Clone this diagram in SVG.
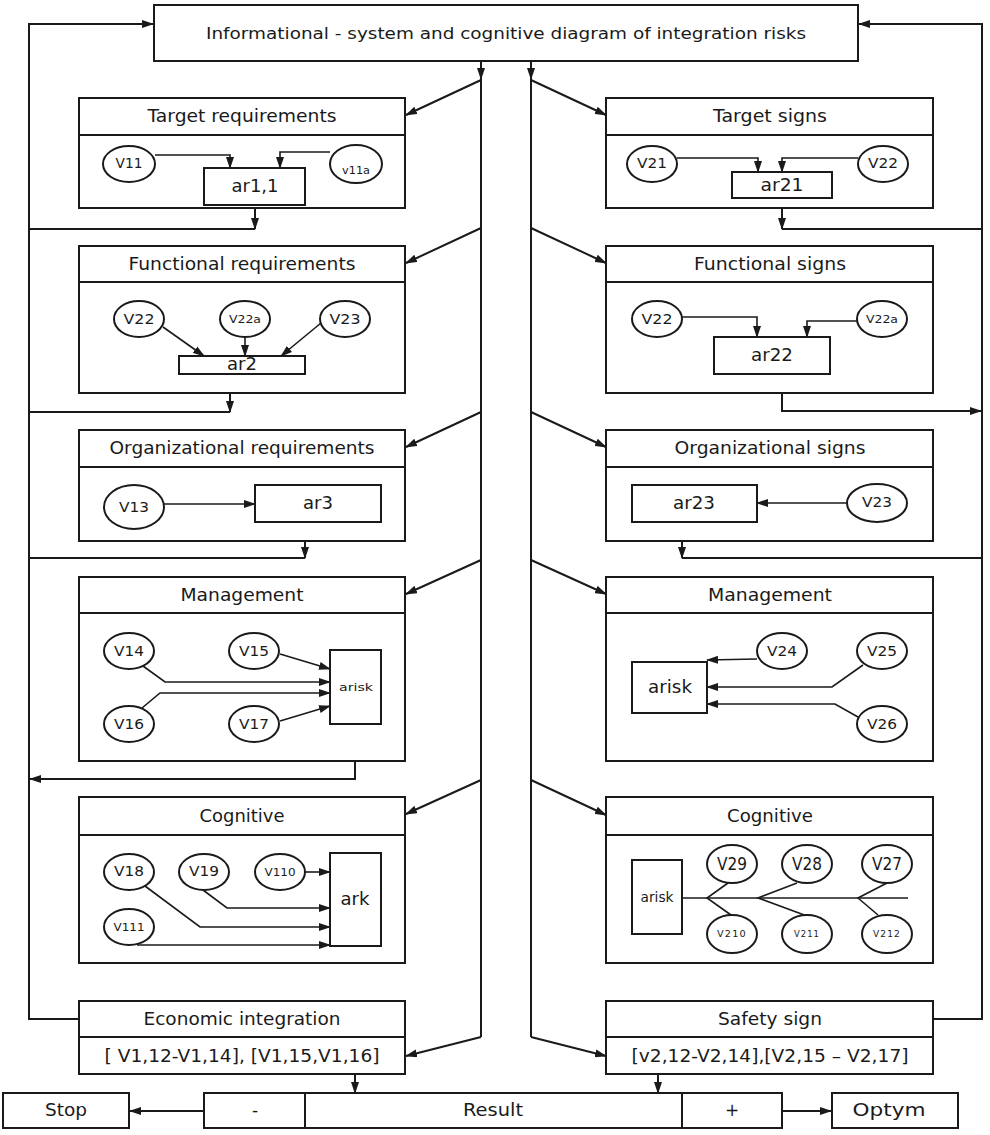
<svg xmlns="http://www.w3.org/2000/svg" width="990" height="1135" viewBox="0 0 990 1135">
<style>
text{font-family:"DejaVu Sans","Liberation Sans",Arial,sans-serif;fill:#1a1a1a;text-anchor:middle;dominant-baseline:central}
.t{font-size:17px}
.h{font-size:16px}
.v{font-size:14px}
.s{font-size:11px}
.xs{font-size:8px;letter-spacing:1px}
rect,ellipse{fill:#fff;stroke:#1a1a1a;stroke-width:2}
.p{fill:none;stroke:#1a1a1a;stroke-width:2}
.c{fill:none;stroke:#1a1a1a;stroke-width:1.6}
.a{marker-end:url(#ah)}
</style>
<defs>
<marker id="ah" viewBox="0 0 12 8" refX="11" refY="4" markerWidth="12" markerHeight="8" markerUnits="userSpaceOnUse" orient="auto">
<path d="M0,0 L12,4 L0,8 Z" fill="#1a1a1a"/>
</marker>
</defs>
<rect width="990" height="1135" style="fill:#fff;stroke:none"/>

<g id="connectors">
<path class="p a" d="M79,1019 H29 V24 H153"/>
<path class="p a" d="M933,1019 H982 V24 H859"/>
<path class="p a" d="M481,61 V79"/>
<path class="p" d="M481,79 V1037"/>
<path class="p a" d="M531,61 V79"/>
<path class="p" d="M531,79 V1037"/>
<path class="p a" d="M481,80 L406,115"/>
<path class="p a" d="M481,228 L406,263"/>
<path class="p a" d="M481,412 L406,447"/>
<path class="p a" d="M481,560 L406,594"/>
<path class="p a" d="M481,780 L406,814"/>
<path class="p a" d="M481,1037 L406,1056"/>
<path class="p a" d="M531,80 L606,115"/>
<path class="p a" d="M531,228 L606,263"/>
<path class="p a" d="M531,412 L606,447"/>
<path class="p a" d="M531,560 L606,594"/>
<path class="p a" d="M531,780 L606,815"/>
<path class="p a" d="M531,1037 L606,1056"/>
<path class="p a" d="M255,205 V229"/>
<path class="p" d="M29,229 H255"/>
<path class="p a" d="M230,393 V412"/>
<path class="p" d="M29,412 H230"/>
<path class="p a" d="M305,522 V558"/>
<path class="p" d="M29,558 H305"/>
<path class="p a" d="M355,724 V779 H30"/>
<path class="p a" d="M782,198 V229"/>
<path class="p" d="M782,229 H982"/>
<path class="p a" d="M782,374 V411 H981"/>
<path class="p a" d="M682,522 V558"/>
<path class="p" d="M682,558 H982"/>
<path class="p a" d="M355,1074 V1093"/>
<path class="p a" d="M658,1074 V1093"/>
<path class="p a" d="M204,1111 H130"/>
<path class="p a" d="M782,1111 H831"/>
</g>

<g id="top">
<rect x="154" y="5" width="704" height="56"/>
<text class="h" x="506" y="33" textLength="600" lengthAdjust="spacingAndGlyphs">Informational - system and cognitive diagram of integration risks</text>
</g>

<g id="target-requirements">
<rect x="79" y="98" width="326" height="110"/>
<path class="p" d="M79,135 H405"/>
<text class="t" x="242" y="116" textLength="189" lengthAdjust="spacingAndGlyphs">Target requirements</text>
<ellipse cx="129" cy="164" rx="26" ry="18"/>
<text class="v" x="129" y="163" textLength="27" lengthAdjust="spacingAndGlyphs">V11</text>
<ellipse cx="356" cy="164" rx="26" ry="19"/>
<text class="s" x="356" y="170" textLength="28" lengthAdjust="spacingAndGlyphs">v11a</text>
<rect x="204" y="168" width="101" height="37"/>
<text class="t" x="255" y="186" textLength="47" lengthAdjust="spacingAndGlyphs">ar1,1</text>
<path class="c a" d="M155,155 H230 V168"/>
<path class="c a" d="M330,152 H280 V168"/>
</g>

<g id="functional-requirements">
<rect x="79" y="246" width="326" height="147"/>
<path class="p" d="M79,282 H405"/>
<text class="t" x="242" y="264" textLength="227" lengthAdjust="spacingAndGlyphs">Functional requirements</text>
<ellipse cx="139" cy="319" rx="25" ry="18"/>
<text class="v" x="139" y="319" textLength="31" lengthAdjust="spacingAndGlyphs">V22</text>
<ellipse cx="245" cy="319" rx="25" ry="18"/>
<text class="s" x="245" y="319" textLength="32" lengthAdjust="spacingAndGlyphs">V22a</text>
<ellipse cx="345" cy="319" rx="25" ry="18"/>
<text class="v" x="345" y="319" textLength="31" lengthAdjust="spacingAndGlyphs">V23</text>
<rect x="179" y="356" width="126" height="18"/>
<text class="t" x="242" y="364" textLength="30" lengthAdjust="spacingAndGlyphs">ar2</text>
<path class="c a" d="M163,327 L204,356"/>
<path class="c a" d="M245,337 V356"/>
<path class="c a" d="M321,323 L281,356"/>
</g>

<g id="organizational-requirements">
<rect x="79" y="430" width="326" height="111"/>
<path class="p" d="M79,467 H405"/>
<text class="t" x="242" y="448" textLength="265" lengthAdjust="spacingAndGlyphs">Organizational requirements</text>
<ellipse cx="134" cy="507" rx="30" ry="22"/>
<text class="v" x="134" y="507" textLength="30" lengthAdjust="spacingAndGlyphs">V13</text>
<rect x="255" y="485" width="126" height="37"/>
<text class="t" x="318" y="503" textLength="30" lengthAdjust="spacingAndGlyphs">ar3</text>
<path class="c a" d="M164,504 H255"/>
</g>

<g id="management-left">
<rect x="79" y="577" width="326" height="184"/>
<path class="p" d="M79,613 H405"/>
<text class="t" x="242" y="595" textLength="123" lengthAdjust="spacingAndGlyphs">Management</text>
<ellipse cx="129" cy="651" rx="25" ry="18"/>
<text class="v" x="129" y="651" textLength="30" lengthAdjust="spacingAndGlyphs">V14</text>
<ellipse cx="254" cy="651" rx="25" ry="18"/>
<text class="v" x="254" y="651" textLength="30" lengthAdjust="spacingAndGlyphs">V15</text>
<ellipse cx="129" cy="724" rx="25" ry="18"/>
<text class="v" x="129" y="724" textLength="30" lengthAdjust="spacingAndGlyphs">V16</text>
<ellipse cx="254" cy="724" rx="25" ry="18"/>
<text class="v" x="254" y="724" textLength="30" lengthAdjust="spacingAndGlyphs">V17</text>
<rect x="330" y="650" width="51" height="74"/>
<text class="s" x="356" y="687" textLength="34" lengthAdjust="spacingAndGlyphs">arisk</text>
<path class="c a" d="M280,654 L330,669"/>
<path class="c a" d="M143,666 L165,682 H330"/>
<path class="c a" d="M142,708 L160,693 H330"/>
<path class="c a" d="M280,721 L330,706"/>
</g>

<g id="cognitive-left">
<rect x="79" y="797" width="326" height="166"/>
<path class="p" d="M79,835 H405"/>
<text class="t" x="242" y="816" textLength="85" lengthAdjust="spacingAndGlyphs">Cognitive</text>
<ellipse cx="129" cy="872" rx="25" ry="18"/>
<text class="v" x="129" y="871" textLength="30" lengthAdjust="spacingAndGlyphs">V18</text>
<ellipse cx="204" cy="872" rx="25" ry="18"/>
<text class="v" x="204" y="871" textLength="30" lengthAdjust="spacingAndGlyphs">V19</text>
<ellipse cx="280" cy="872" rx="25" ry="18"/>
<text class="s" x="280" y="872" textLength="31" lengthAdjust="spacingAndGlyphs">V110</text>
<ellipse cx="129" cy="927" rx="25" ry="18"/>
<text class="s" x="129" y="927" textLength="31" lengthAdjust="spacingAndGlyphs">V111</text>
<rect x="330" y="853" width="51" height="93"/>
<text class="t" x="355" y="899" textLength="29" lengthAdjust="spacingAndGlyphs">ark</text>
<path class="c a" d="M305,872 H330"/>
<path class="c a" d="M203,890 L227,908 H330"/>
<path class="c a" d="M145,886 L200,927 H330"/>
<path class="c a" d="M137,945 H330"/>
</g>

<g id="economic-integration">
<rect x="79" y="1001" width="326" height="73"/>
<path class="p" d="M79,1037 H405"/>
<text class="t" x="242" y="1019" textLength="197" lengthAdjust="spacingAndGlyphs">Economic integration</text>
<text class="t" x="242" y="1056" textLength="275" lengthAdjust="spacingAndGlyphs">[ V1,12-V1,14], [V1,15,V1,16]</text>
</g>

<g id="target-signs">
<rect x="606" y="98" width="327" height="110"/>
<path class="p" d="M606,135 H933"/>
<text class="t" x="770" y="116" textLength="114" lengthAdjust="spacingAndGlyphs">Target signs</text>
<ellipse cx="652" cy="164" rx="25" ry="18"/>
<text class="v" x="652" y="163" textLength="30" lengthAdjust="spacingAndGlyphs">V21</text>
<ellipse cx="883" cy="164" rx="25" ry="18"/>
<text class="v" x="883" y="163" textLength="30" lengthAdjust="spacingAndGlyphs">V22</text>
<rect x="732" y="172" width="100" height="26"/>
<text class="t" x="782" y="185" textLength="43" lengthAdjust="spacingAndGlyphs">ar21</text>
<path class="c a" d="M677,158 H758 V172"/>
<path class="c a" d="M858,158 H782 V172"/>
</g>

<g id="functional-signs">
<rect x="606" y="246" width="327" height="147"/>
<path class="p" d="M606,282 H933"/>
<text class="t" x="770" y="264" textLength="152" lengthAdjust="spacingAndGlyphs">Functional signs</text>
<ellipse cx="657" cy="319" rx="25" ry="18"/>
<text class="v" x="657" y="319" textLength="31" lengthAdjust="spacingAndGlyphs">V22</text>
<ellipse cx="882" cy="319" rx="25" ry="18"/>
<text class="s" x="882" y="319" textLength="32" lengthAdjust="spacingAndGlyphs">V22a</text>
<rect x="714" y="337" width="116" height="37"/>
<text class="t" x="772" y="355" textLength="42" lengthAdjust="spacingAndGlyphs">ar22</text>
<path class="c a" d="M682,317 H757 V337"/>
<path class="c a" d="M857,321 H807 V337"/>
</g>

<g id="organizational-signs">
<rect x="606" y="430" width="327" height="111"/>
<path class="p" d="M606,467 H933"/>
<text class="t" x="770" y="448" textLength="191" lengthAdjust="spacingAndGlyphs">Organizational signs</text>
<rect x="632" y="485" width="125" height="37"/>
<text class="t" x="694" y="503" textLength="42" lengthAdjust="spacingAndGlyphs">ar23</text>
<ellipse cx="877" cy="503" rx="30" ry="19"/>
<text class="v" x="877" y="502" textLength="30" lengthAdjust="spacingAndGlyphs">V23</text>
<path class="c a" d="M847,503 H757"/>
</g>

<g id="management-right">
<rect x="606" y="577" width="327" height="184"/>
<path class="p" d="M606,613 H933"/>
<text class="t" x="770" y="595" textLength="124" lengthAdjust="spacingAndGlyphs">Management</text>
<rect x="632" y="662" width="75" height="51"/>
<text class="t" x="670" y="687" textLength="44" lengthAdjust="spacingAndGlyphs">arisk</text>
<ellipse cx="782" cy="651" rx="25" ry="18"/>
<text class="v" x="782" y="651" textLength="30" lengthAdjust="spacingAndGlyphs">V24</text>
<ellipse cx="882" cy="651" rx="25" ry="18"/>
<text class="v" x="882" y="651" textLength="30" lengthAdjust="spacingAndGlyphs">V25</text>
<ellipse cx="882" cy="724" rx="25" ry="18"/>
<text class="v" x="882" y="724" textLength="30" lengthAdjust="spacingAndGlyphs">V26</text>
<path class="c a" d="M757,659 L707,660"/>
<path class="c a" d="M863,665 L832,687 H707"/>
<path class="c a" d="M858,717 L835,704 H707"/>
</g>

<g id="cognitive-right">
<rect x="606" y="797" width="327" height="166"/>
<path class="p" d="M606,835 H933"/>
<text class="t" x="770" y="816" textLength="86" lengthAdjust="spacingAndGlyphs">Cognitive</text>
<rect x="632" y="860" width="50" height="74"/>
<text class="v" x="657" y="897" textLength="33" lengthAdjust="spacingAndGlyphs">arisk</text>
<path class="c" d="M682,898 H908"/>
<path class="c" d="M728,883 L707,898 L731,915"/>
<path class="c" d="M797,883 L758,898 L807,916"/>
<path class="c" d="M887,883 L858,898 L878,915"/>
<ellipse cx="732" cy="864" rx="25" ry="19"/>
<text class="t" x="732" y="864" textLength="30" lengthAdjust="spacingAndGlyphs">V29</text>
<ellipse cx="807" cy="864" rx="25" ry="19"/>
<text class="t" x="807" y="864" textLength="30" lengthAdjust="spacingAndGlyphs">V28</text>
<ellipse cx="887" cy="864" rx="25" ry="19"/>
<text class="t" x="887" y="864" textLength="30" lengthAdjust="spacingAndGlyphs">V27</text>
<ellipse cx="732" cy="934" rx="25" ry="19"/>
<text class="xs" x="732" y="934" textLength="30" lengthAdjust="spacingAndGlyphs">V210</text>
<ellipse cx="807" cy="934" rx="25" ry="19"/>
<text class="xs" x="807" y="934" textLength="26" lengthAdjust="spacingAndGlyphs">V211</text>
<ellipse cx="887" cy="934" rx="25" ry="19"/>
<text class="xs" x="887" y="934" textLength="28" lengthAdjust="spacingAndGlyphs">V212</text>
</g>

<g id="safety-sign">
<rect x="606" y="1001" width="327" height="73"/>
<path class="p" d="M606,1037 H933"/>
<text class="t" x="770" y="1019" textLength="104" lengthAdjust="spacingAndGlyphs">Safety sign</text>
<text class="t" x="770" y="1056" textLength="277" lengthAdjust="spacingAndGlyphs">[v2,12-V2,14],[V2,15 – V2,17]</text>
</g>

<g id="result">
<rect x="204" y="1093" width="578" height="35"/>
<path class="p" d="M305,1093 V1128 M682,1093 V1128"/>
<text class="t" x="255" y="1110">-</text>
<text class="t" x="493" y="1110" textLength="60" lengthAdjust="spacingAndGlyphs">Result</text>
<text class="t" x="732" y="1110">+</text>
</g>
<g id="stop">
<rect x="3" y="1093" width="126" height="35"/>
<text class="t" x="66" y="1110" textLength="42" lengthAdjust="spacingAndGlyphs">Stop</text>
</g>
<g id="optym">
<rect x="832" y="1093" width="126" height="35"/>
<text class="t" x="889" y="1110" textLength="73" lengthAdjust="spacingAndGlyphs">Optym</text>
</g>
</svg>
